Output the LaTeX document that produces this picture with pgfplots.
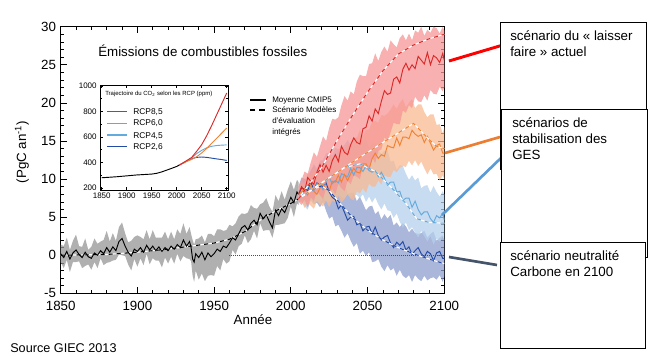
\documentclass[border=0pt]{standalone}
\usepackage{fontspec}
\setmainfont{Liberation Sans}
\usepackage{pgfplots}
\pgfplotsset{compat=1.18}
\usepackage{pgfplotstable}
\usepgfplotslibrary{fillbetween}

\definecolor{bgray}{RGB}{150,150,150}
\definecolor{bred}{RGB}{246,150,150}
\definecolor{bora}{RGB}{248,185,145}
\definecolor{blbl}{RGB}{180,207,236}
\definecolor{bdbl}{RGB}{141,157,205}
\definecolor{lred}{RGB}{220,40,40}
\definecolor{lora}{RGB}{240,130,50}
\definecolor{llbl}{RGB}{100,170,220}
\definecolor{ldbl}{RGB}{35,75,165}
\definecolor{aora}{RGB}{237,125,49}
\definecolor{ablu}{RGB}{91,155,213}
\definecolor{aslt}{RGB}{68,84,106}

\pgfplotstableread{
yr mean lo hi
1850 0.2 -0.9 1.4
1852 -0.3 -1.7 1.2
1854 0.5 -0.6 2.3
1856 -0.5 -2.2 0.7
1858 0.3 -0.9 1.9
1860 0.7 -0.9 2.7
1862 0.1 -0.8 1.2
1864 -0.3 -1.7 1.1
1866 0.4 -1.4 2.2
1868 -0.2 -1.2 0.7
1870 -0.4 -1.9 1.1
1872 0.3 -0.9 2.2
1874 0.0 -1.7 1.5
1876 0.6 -0.4 1.8
1878 0.2 -1.3 2.0
1880 1.0 -1.0 3.2
1882 0.4 -0.9 1.8
1884 1.1 -0.7 2.9
1886 0.6 -0.6 1.9
1888 1.8 0.1 3.7
1890 2.2 0.0 4.3
1892 1.2 -0.1 2.9
1894 0.4 -1.2 1.7
1896 -0.1 -2.0 1.9
1898 0.8 -0.5 2.4
1900 0.5 -1.5 2.6
1902 1.0 -0.4 2.4
1904 0.4 -1.3 2.1
1906 1.3 0.2 3.3
1908 0.7 -1.2 2.1
1910 1.2 -0.4 3.3
1912 0.6 -0.7 2.3
1914 1.1 -0.7 2.3
1916 0.5 -1.6 2.3
1918 1.0 -0.3 3.1
1920 0.6 -1.1 2.1
1922 1.2 -0.2 3.1
1924 0.8 -1.1 2.1
1926 1.4 0.2 3.4
1928 1.0 -0.8 2.8
1930 2.0 -0.1 4.2
1932 1.2 -0.4 2.8
1934 1.8 -0.5 3.7
1935 1.0 -0.8 2.8
1936 -0.5 -2.7 2.0
1937 -0.9 -3.5 1.4
1938 0.2 -2.0 2.1
1940 -0.3 -3.2 2.2
1942 0.4 -2.4 2.6
1944 -0.6 -3.4 1.7
1946 0.3 -2.7 2.8
1948 -0.2 -2.6 2.8
1950 0.2 -2.7 2.5
1952 0.8 -1.4 3.4
1954 0.5 -2.0 3.4
1956 1.2 -0.5 3.2
1958 1.0 -1.1 3.3
1960 1.6 -0.8 4.0
1962 2.3 0.7 3.8
1964 2.0 0.1 4.2
1966 2.8 1.2 5.1
1968 3.6 1.5 5.5
1970 3.9 2.6 5.4
1972 3.3 1.6 5.6
1974 4.2 2.1 6.6
1976 4.6 3.2 6.2
1978 4.0 2.2 6.1
1980 5.5 4.2 6.7
1982 4.8 3.2 6.9
1984 5.3 3.3 7.5
1986 4.4 3.3 6.4
1988 3.6 2.3 5.7
1990 5.9 4.0 7.9
1992 5.2 4.0 7.1
1994 6.1 4.1 8.4
1996 5.6 4.2 7.3
1998 6.6 4.9 8.6
2000 7.6 6.4 9.7
2002 6.9 5.0 8.6
2004 8.3 6.8 9.9
2005 8.0 6.6 9.6
}\hist

\pgfplotstableread{
yr mean lo hi
2005 8.0 7.0 9.0
2007 9.0 6.6 9.9
2009 8.4 7.3 11.0
2011 10.2 6.3 10.7
2013 9.7 7.6 12.2
2015 9.3 7.1 13.5
2017 10.9 8.4 12.9
2019 11.9 7.9 14.3
2021 10.9 7.4 15.6
2023 11.8 8.8 15.0
2025 11.0 8.2 16.7
2027 12.4 8.7 17.9
2029 13.2 8.0 17.8
2031 12.3 9.4 18.1
2033 14.3 8.8 19.7
2035 13.5 8.4 20.9
2037 13.2 9.8 20.3
2039 14.5 9.3 21.5
2041 15.4 10.5 21.1
2043 14.8 10.3 22.8
2045 14.6 10.0 23.7
2047 16.6 11.6 23.5
2049 16.8 11.3 23.5
2051 18.3 11.2 25.1
2053 17.6 12.8 25.2
2055 19.2 12.1 26.5
2057 18.6 13.7 25.5
2059 20.2 13.9 26.7
2061 21.6 15.5 27.4
2063 21.1 14.9 26.7
2065 21.3 16.1 28.2
2067 23.1 17.4 27.7
2069 23.4 17.2 27.3
2071 22.6 17.2 28.5
2073 24.4 19.0 29.0
2075 25.2 18.7 28.2
2077 24.3 19.7 29.1
2079 25.0 19.3 28.2
2081 24.5 20.8 29.5
2083 26.1 20.2 29.2
2085 25.6 20.1 30.0
2087 25.1 21.0 28.8
2089 26.6 20.3 29.6
2091 25.0 21.7 29.2
2093 26.2 21.2 30.0
2095 25.9 21.1 29.8
2097 25.3 22.1 29.1
2099 26.5 21.5 30.0
2100 25.6 22.0 29.5
}\rcpA

\pgfplotstableread{
yr mean lo hi
2005 8.0 7.0 9.0
2007 8.3 7.0 9.4
2009 8.7 6.2 9.4
2011 7.9 6.9 10.6
2013 9.2 6.5 10.6
2015 8.4 6.1 11.6
2017 8.0 7.1 10.8
2019 8.8 6.7 11.7
2021 9.3 6.4 12.3
2023 8.7 7.2 11.8
2025 8.4 6.3 13.1
2027 9.7 7.2 12.8
2029 9.6 6.9 12.6
2031 10.5 7.8 13.7
2033 9.6 6.9 14.3
2035 10.6 7.4 13.8
2037 9.8 8.0 14.7
2039 10.7 7.4 14.2
2041 11.4 7.2 15.4
2043 10.9 8.4 15.4
2045 10.8 8.1 16.4
2047 12.0 8.8 15.6
2049 12.0 8.2 16.5
2051 11.3 9.4 16.5
2053 12.7 9.0 17.5
2055 13.4 9.0 17.6
2057 12.7 9.8 17.4
2059 13.2 9.3 18.4
2061 13.0 10.5 18.3
2063 14.4 10.3 18.6
2065 14.2 10.3 19.1
2067 14.1 11.2 19.8
2069 15.4 10.9 19.2
2071 14.4 11.5 20.0
2073 15.5 11.7 20.5
2075 15.5 11.6 19.4
2077 15.3 12.4 20.0
2079 16.4 11.8 20.5
2081 15.9 12.5 19.3
2083 15.6 11.7 19.8
2085 15.8 12.3 19.8
2087 14.8 11.4 18.8
2089 15.6 10.6 18.1
2091 14.7 11.4 18.5
2093 13.8 10.6 18.5
2095 14.4 10.7 17.1
2097 14.6 9.8 17.2
2099 13.4 10.5 16.0
2100 13.4 10.0 16.8
}\rcpB

\pgfplotstableread{
yr mean lo hi
2005 8.0 7.0 9.0
2007 7.7 7.2 9.8
2009 8.6 6.4 9.4
2011 9.2 6.0 10.7
2013 8.6 7.2 10.9
2015 8.5 6.7 12.0
2017 9.4 7.2 11.4
2019 9.3 6.6 12.4
2021 8.6 7.6 12.5
2023 9.7 7.1 13.4
2025 10.2 6.9 13.4
2027 9.4 7.6 13.1
2029 9.8 6.9 14.1
2031 9.5 8.0 13.9
2033 10.7 7.6 14.1
2035 10.5 7.4 14.5
2037 10.3 8.1 15.1
2039 11.4 7.6 14.5
2041 10.5 8.0 15.2
2043 11.5 7.9 15.5
2045 11.5 7.5 14.4
2047 11.0 8.0 14.8
2049 11.7 7.0 15.2
2051 11.1 7.7 14.0
2053 10.9 6.9 14.6
2055 11.1 7.6 14.7
2057 10.3 6.7 13.8
2059 10.9 6.0 13.3
2061 10.1 6.8 13.7
2063 9.2 5.9 13.7
2065 9.6 5.8 12.3
2067 9.6 4.9 12.4
2069 8.3 5.5 11.2
2071 8.4 4.4 11.8
2073 7.2 3.6 11.7
2075 7.5 4.3 10.7
2077 7.5 3.3 9.9
2079 6.3 3.7 10.5
2081 7.1 3.0 9.8
2083 6.0 2.3 10.2
2085 5.3 3.2 8.8
2087 5.7 2.5 9.1
2089 5.7 1.8 9.2
2091 4.8 2.5 8.2
2093 4.3 1.4 9.1
2095 5.2 2.2 8.3
2097 4.9 1.8 7.7
2099 5.5 2.5 8.4
2100 4.6 2.0 8.0
}\rcpC

\pgfplotstableread{
yr mean lo hi
2005 8.0 7.0 9.0
2007 8.8 7.5 10.2
2009 8.7 6.8 10.0
2011 8.5 6.3 10.1
2013 9.6 7.3 11.1
2015 8.6 6.7 11.8
2017 9.5 6.9 11.0
2019 9.3 6.3 11.7
2021 8.9 7.0 11.0
2023 9.5 5.8 11.8
2025 8.3 4.8 11.8
2027 7.6 5.1 10.6
2029 7.3 3.8 9.7
2031 6.1 4.0 10.1
2033 6.6 3.2 9.4
2035 5.6 2.3 9.6
2037 4.6 2.9 8.1
2039 5.0 1.9 8.2
2041 5.1 1.1 8.2
2043 4.0 1.6 7.1
2045 4.2 0.2 7.7
2047 3.2 0.6 6.8
2049 3.7 -0.1 5.9
2051 3.8 0.4 6.4
2053 2.8 -0.9 6.5
2055 3.7 -0.8 5.4
2057 2.6 -0.5 5.8
2059 2.0 -1.5 4.7
2061 2.4 -2.1 5.4
2063 2.6 -1.3 4.8
2065 1.6 -2.0 5.3
2067 1.0 -1.7 3.9
2069 1.7 -2.7 4.3
2071 1.3 -1.9 3.7
2073 1.8 -2.7 4.2
2075 0.7 -3.0 3.8
2077 1.1 -2.6 3.0
2079 0.1 -3.5 3.5
2081 0.6 -2.6 2.9
2083 1.0 -3.1 2.8
2085 0.2 -3.4 2.9
2087 -0.2 -2.7 3.2
2089 0.5 -3.3 2.3
2091 0.2 -3.0 2.8
2093 -0.7 -2.9 3.1
2095 0.3 -3.2 1.9
2097 0.5 -2.6 2.3
2099 -0.4 -3.5 2.6
2100 -0.4 -2.8 2.0
}\rcpD

\begin{document}
\begin{tikzpicture}

\begin{axis}[
  at={(45.5pt,-220pt)}, anchor=south west,
  scale only axis, width=287.7pt, height=200pt,
  xmin=1850, xmax=2100, ymin=-5, ymax=30,
  xtick={1850,1900,...,2100}, ytick={-5,0,...,30},
  minor x tick num=4, minor y tick num=4,
  tick align=inside, major tick length=4.5pt, minor tick length=2.2pt,
  every tick/.style={black, line width=0.5pt},
  axis line style={line width=0.6pt},
  tick label style={font=\fontsize{10}{12}\selectfont},
  xticklabel style={yshift=-2.5pt},
  /pgf/number format/assume math mode=true,
  /pgf/number format/1000 sep={},
]
% bands
\addplot[draw=none, name path=hl, forget plot] table[x=yr,y=lo] {\hist};
\addplot[draw=none, name path=hh, forget plot] table[x=yr,y=hi] {\hist};
\addplot[bgray, fill opacity=0.75, draw=none] fill between[of=hl and hh];
\addplot[draw=none, name path=dl, forget plot] table[x=yr,y=lo] {\rcpD};
\addplot[draw=none, name path=dh, forget plot] table[x=yr,y=hi] {\rcpD};
\addplot[bdbl, fill opacity=0.75, draw=none] fill between[of=dl and dh];
\addplot[draw=none, name path=cl, forget plot] table[x=yr,y=lo] {\rcpC};
\addplot[draw=none, name path=ch, forget plot] table[x=yr,y=hi] {\rcpC};
\addplot[blbl, fill opacity=0.75, draw=none] fill between[of=cl and ch];
\addplot[draw=none, name path=bl, forget plot] table[x=yr,y=lo] {\rcpB};
\addplot[draw=none, name path=bh, forget plot] table[x=yr,y=hi] {\rcpB};
\addplot[bora, fill opacity=0.75, draw=none] fill between[of=bl and bh];
\addplot[draw=none, name path=al, forget plot] table[x=yr,y=lo] {\rcpA};
\addplot[draw=none, name path=ah, forget plot] table[x=yr,y=hi] {\rcpA};
\addplot[bred, fill opacity=0.75, draw=none] fill between[of=al and ah];
% zero line
\addplot[black!70, densely dotted, line width=0.5pt] coordinates {(1960,0) (2100,0)};
% dashed IAM scenarios
\addplot[white, line width=0.8pt] coordinates {(1850,0) (1880,0.1) (1900,0.4) (1920,0.8) (1935,1.2) (1950,1.6) (1960,2.1) (1970,3.1) (1980,4.6) (1990,5.8) (2000,6.8) (2005,7.4)};
\addplot[black, line width=0.8pt, dash pattern=on 3pt off 3pt] coordinates {(1850,0) (1880,0.1) (1900,0.4) (1920,0.8) (1935,1.2) (1950,1.6) (1960,2.1) (1970,3.1) (1980,4.6) (1990,5.8) (2000,6.8) (2005,7.4)};
% mean lines
\addplot[black, line width=0.7pt] table[x=yr,y=mean] {\hist};
\addplot[ldbl, line width=0.7pt] table[x=yr,y=mean] {\rcpD};
\addplot[llbl, line width=0.7pt] table[x=yr,y=mean] {\rcpC};
\addplot[lora, line width=0.7pt] table[x=yr,y=mean] {\rcpB};
\addplot[lred, line width=0.7pt] table[x=yr,y=mean] {\rcpA};
% dashed future
\addplot[white, line width=0.8pt] coordinates {(2005,7.4) (2015,8.7) (2020,9.1) (2025,8.5) (2030,7.3) (2040,5.0) (2050,3.3) (2060,2.0) (2070,1.0) (2080,0.2) (2090,-0.5) (2100,-1.1)};
\addplot[ldbl, line width=0.8pt, dash pattern=on 3pt off 3pt] coordinates {(2005,7.4) (2015,8.7) (2020,9.1) (2025,8.5) (2030,7.3) (2040,5.0) (2050,3.3) (2060,2.0) (2070,1.0) (2080,0.2) (2090,-0.5) (2100,-1.1)};
\addplot[white, line width=0.8pt] coordinates {(2005,7.4) (2020,9.5) (2035,11.5) (2045,12.0) (2055,11.0) (2065,9.0) (2075,6.8) (2082,4.8) (2090,4.3) (2100,4.2)};
\addplot[llbl, line width=0.8pt, dash pattern=on 3pt off 3pt] coordinates {(2005,7.4) (2020,9.5) (2035,11.5) (2045,12.0) (2055,11.0) (2065,9.0) (2075,6.8) (2082,4.8) (2090,4.3) (2100,4.2)};
\addplot[white, line width=0.8pt] coordinates {(2005,7.4) (2020,9.5) (2040,12.2) (2060,14.8) (2080,17.3) (2090,15.2) (2095,14.3) (2100,14.0)};
\addplot[lora, line width=0.8pt, dash pattern=on 3pt off 3pt] coordinates {(2005,7.4) (2020,9.5) (2040,12.2) (2060,14.8) (2080,17.3) (2090,15.2) (2095,14.3) (2100,14.0)};
\addplot[white, line width=0.8pt] coordinates {(2005,7.4) (2010,8.8) (2020,11.5) (2030,15.0) (2040,18.3) (2050,21.4) (2060,24.2) (2070,26.4) (2080,27.6) (2090,28.4) (2100,29.0)};
\addplot[lred, line width=0.8pt, dash pattern=on 3pt off 3pt] coordinates {(2005,7.4) (2010,8.8) (2020,11.5) (2030,15.0) (2040,18.3) (2050,21.4) (2060,24.2) (2070,26.4) (2080,27.6) (2090,28.4) (2100,29.0)};
\end{axis}

% inset
\begin{axis}[
  at={(75pt,-142.5pt)}, anchor=south west,
  scale only axis, width=96pt, height=78.75pt,
  xmin=1846.6, xmax=2102.6, ymin=184, ymax=1008,
  xtick={1850,1900,...,2100}, ytick={200,400,...,1000},
  minor y tick num=1,
  tick align=inside, major tick length=2.5pt, minor tick length=1.5pt,
  every tick/.style={black, line width=0.4pt},
  axis line style={line width=0.5pt},
  axis background/.style={fill=white},
  tick label style={font=\fontsize{6}{7}\selectfont},
  xticklabel style={yshift=1pt},
  yticklabel style={xshift=1pt},
  /pgf/number format/assume math mode=true,
  /pgf/number format/1000 sep={},
]
\addplot[black, line width=0.7pt] coordinates {(1850,280) (1880,288) (1900,295) (1920,302) (1950,309) (1960,315) (1970,326) (1980,340) (1990,354) (2000,369) (2005,379)};
\addplot[ldbl, line width=0.7pt] coordinates {(2005,379) (2020,410) (2030,430) (2040,440) (2050,443) (2060,440) (2070,434) (2080,428) (2090,423) (2100,416)};
\addplot[llbl, line width=0.7pt] coordinates {(2005,379) (2020,412) (2030,435) (2040,470) (2050,495) (2060,515) (2070,527) (2080,533) (2090,536) (2100,538)};
\addplot[lora, line width=0.7pt] coordinates {(2005,379) (2020,408) (2030,424) (2040,445) (2050,475) (2060,510) (2070,550) (2080,590) (2090,630) (2100,670)};
\addplot[lred, line width=0.7pt] coordinates {(2005,379) (2020,415) (2030,440) (2040,488) (2050,540) (2060,610) (2070,690) (2080,775) (2090,860) (2100,945)};
\end{axis}

\begin{scope}[x=0.75pt,y=-0.75pt]
% inset title and legend
\node[anchor=base west, inner sep=0pt, font=\fontsize{4.5}{5}\selectfont] at (105,95.5) {Trajectoire du CO\textsubscript{2} selon les RCP (ppm)};
\draw[lred, line width=0.8pt] (107,111.7) -- (127,111.7);
\draw[lora, line width=0.8pt] (107,123.3) -- (127,123.3);
\draw[llbl, line width=0.8pt] (107,135) -- (127,135);
\draw[ldbl, line width=0.8pt] (107,146.7) -- (127,146.7);
\begin{scope}[every node/.style={anchor=base west, inner sep=0pt, font=\fontsize{6.3}{7}\selectfont}]
\node at (133,114.5) {RCP8,5};
\node at (133,126) {RCP6,0};
\node at (133,138) {RCP4,5};
\node at (133,149.5) {RCP2,6};
\end{scope}
% main title
\node[anchor=base west, inner sep=0pt, font=\fontsize{10}{12}\selectfont] at (98,57) {Émissions de combustibles fossiles};
% main legend
\draw[black, line width=1pt] (250,100) -- (266,100);
\draw[black, line width=1pt, dash pattern=on 4pt off 3pt] (250,110) -- (267,110);
\begin{scope}[every node/.style={anchor=base west, inner sep=0pt, font=\fontsize{6}{7}\selectfont}]
\node at (272,102.8) {Moyenne CMIP5};
\node at (272,113) {Scénario Modèles};
\node at (272,124) {d'évaluation};
\node at (272,134.5) {intégrés};
\end{scope}
% axis labels
\node[rotate=90, font=\fontsize{10}{12}\selectfont, inner sep=0pt] at (22,152) {(PgC an\textsuperscript{-1})};
\node[anchor=base, inner sep=0pt, font=\fontsize{10}{12}\selectfont] at (253,324.5) {Année};
\node[anchor=base west, inner sep=0pt, font=\fontsize{9.5}{11}\selectfont] at (10,352.5) {Source GIEC 2013};
% connector lines
\draw[red, line width=2.2pt] (449,61) -- (503,45);
\draw[aora, line width=2pt] (445,153) -- (500,137);
\draw[ablu, line width=2pt] (442,215) -- (502,157);
\draw[aslt, line width=2pt] (449,257) -- (497,265);
% boxes
\draw[black, line width=0.7pt, fill=white] (500,22) rectangle (646,110);
\draw[black, line width=0.7pt, fill=white] (501,109) rectangle (647,257);
\draw[black, line width=1.5pt] (501,110) -- (501,170);
\draw[black, line width=0.7pt, fill=white] (500,242) rectangle (645,348);
\begin{scope}[every node/.style={anchor=base west, inner sep=0pt, font=\fontsize{10}{12}\selectfont}]
\node at (510,41) {scénario du « laisser};
\node at (510,57) {faire » actuel};
\node at (512,127.5) {scénarios de};
\node at (512,143.5) {stabilisation des};
\node at (512,159.5) {GES};
\node at (510,260.5) {scénario neutralité};
\node at (510,276) {Carbone en 2100};
\end{scope}
\pgfresetboundingbox
\path[use as bounding box] (0,0) rectangle (663,356);
\end{scope}
\end{tikzpicture}
\end{document}
